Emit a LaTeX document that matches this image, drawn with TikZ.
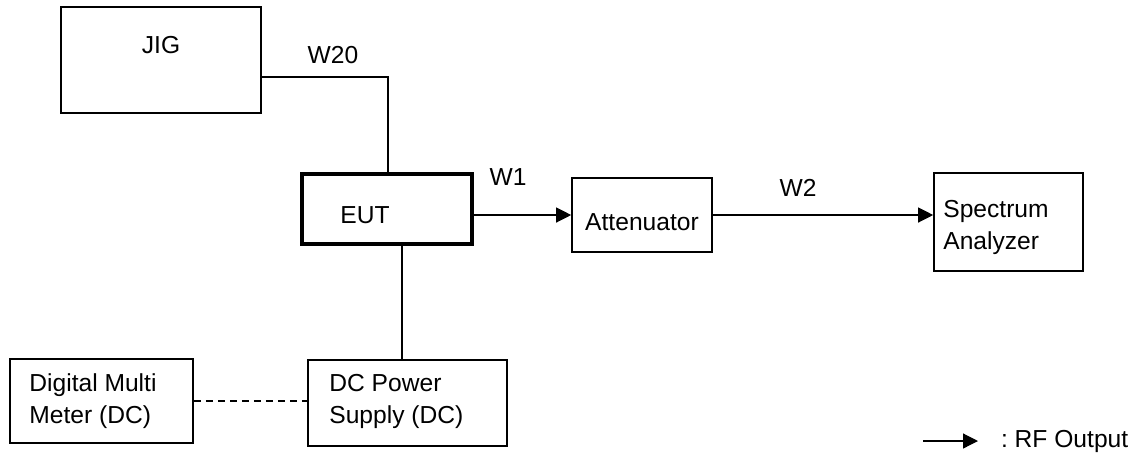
\documentclass[tikz,border=0pt]{standalone}
\usepackage{fontspec}
\setmainfont{Liberation Sans}
\usetikzlibrary{arrows.meta}
\frenchspacing

\begin{document}
\begin{tikzpicture}[x=0.5pt,y=-0.5pt,
    every node/.style={font=\fontsize{12.3}{16}\selectfont},
    box/.style={draw, line width=0.8pt, rectangle, inner sep=0pt},
    boxtext/.style={anchor=west, align=left, inner sep=0pt},
    wire/.style={line width=0.6pt},
    rf/.style={wire, -{Triangle[length=7.5pt,width=7.5pt]}}]
    \useasboundingbox (0,0) rectangle (1137,452);

    \node[box, minimum width=100pt, minimum height=53pt] (jig) at (161,60) {};
    \node (jiglbl) at (161,45) {JIG};
    \node[box, line width=2pt, minimum width=85pt, minimum height=35pt] (eut) at (386.5,209) {};
    \node (eutlbl) at (365,215) {EUT};
    \node[box, minimum width=70pt, minimum height=37pt, text height=15.8pt] (att) at (642,215) {Attenuator};
    \node[box, minimum width=74.5pt, minimum height=49pt] (sa) at (1008.5,222) {};
    \node[boxtext] (salbl) at (943,227.5) {Spectrum\\Analyzer};
    \node[box, minimum width=91.5pt, minimum height=42pt] (dmm) at (101.5,401) {};
    \node[boxtext] (dmmlbl) at (29,401.5) {Digital Multi\\Meter (DC)};
    \node[box, minimum width=99.5pt, minimum height=43pt] (dcps) at (407.5,403) {};
    \node[boxtext] (dcpslbl) at (329,401.5) {DC Power\\Supply (DC)};

    \coordinate (w20) at (388,77);
    \coordinate (pw) at (402,300);
    \draw[wire] (jig.east |- w20) -- (w20) -- (w20 |- eut.north);
    \node (w20lbl) at (333,55) {W20};

    \draw[rf] (eut.east |- att.west) -- (att.west);
    \node (w1lbl) at (508,177) {W1};
    \draw[rf] (att.east) -- (att.east -| sa.west);
    \node (w2lbl) at (798,188) {W2};

    \draw[wire] (pw |- eut.south) -- (pw |- dcps.north);
    \draw[wire, dash pattern=on 3.5pt off 2.5pt] (dmm.east) -- (dmm.east -| dcps.west);

    \coordinate (lga) at (923,441);
    \coordinate (lgb) at (978,441);
    \draw[rf] (lga) -- (lgb);
    \node[anchor=west] (lgtxt) at (994,441) {: RF Output};
\end{tikzpicture}
\end{document}
